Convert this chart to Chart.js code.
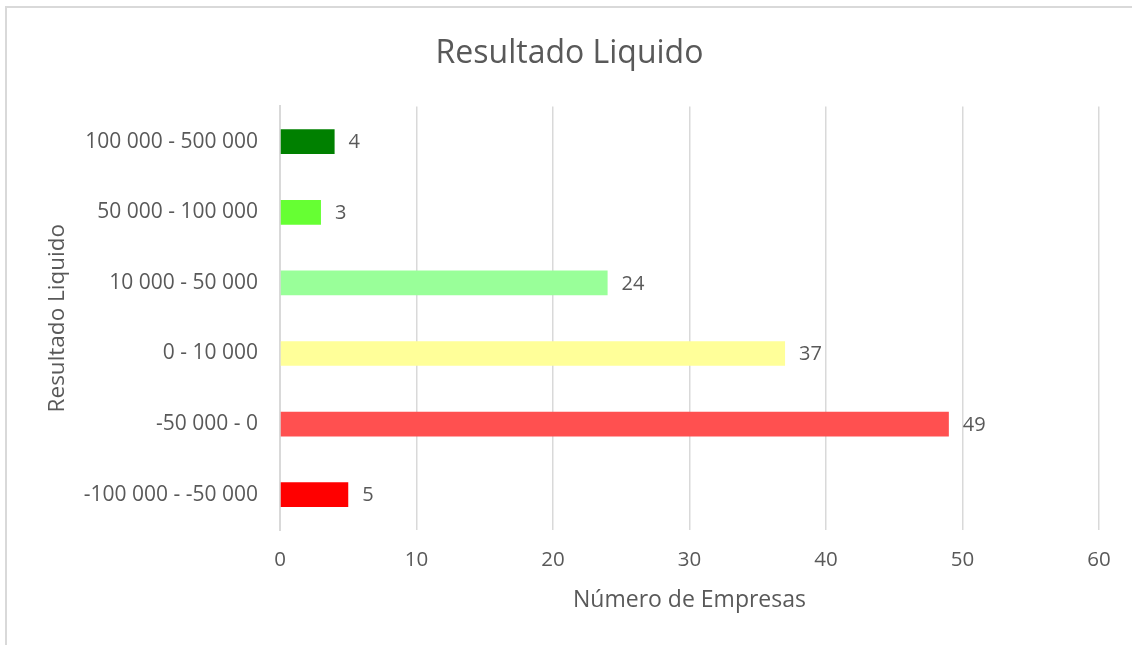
<!DOCTYPE html>
<html>
<head>
<meta charset="utf-8">
<script src="https://cdn.jsdelivr.net/npm/chart.js@4"></script>
<style>
    html, body { margin: 0; padding: 0; background: #fff; overflow: hidden; }
    #frame { position: absolute; left: 5px; top: 6px; width: 1200px; height: 700px;
             border-left: 2px solid #d9d9d9; border-top: 2px solid #d9d9d9; }
    #wrap { position: absolute; left: 0; top: 0; width: 1132px; height: 645px; }
</style>
</head>
<body>
<div id="frame"></div>
<div id="wrap"><canvas id="resultadoChart"></canvas></div>
<script>
const categories = ['100 000 - 500 000', '50 000 - 100 000', '10 000 - 50 000', '0 - 10 000', '-50 000 - 0', '-100 000 - -50 000'];
const empresas = [4, 3, 24, 37, 49, 5];
const barColors = ['#008000', '#66ff33', '#99ff99', '#ffff99', '#ff5050', '#ff0000'];

const textColor = '#595959';
const fontFamily = '"Open Sans", sans-serif';

// little plugin for the value labels right of each bar
const valueLabels = {
    id: 'valueLabels',
    afterDatasetsDraw(chart) {
        const ctx = chart.ctx;
        const meta = chart.getDatasetMeta(0);
        ctx.save();
        ctx.font = '20px ' + fontFamily;
        ctx.fillStyle = textColor;
        ctx.textAlign = 'left';
        ctx.textBaseline = 'middle';
        meta.data.forEach((bar, i) => {
            ctx.fillText(String(empresas[i]), bar.x + 14, bar.y + 1);
        });
        ctx.restore();
    }
};

new Chart(document.getElementById('resultadoChart'), {
    type: 'bar',
    data: {
        labels: categories,
        datasets: [{
            data: empresas,
            backgroundColor: barColors,
            borderWidth: 0,
            barPercentage: 0.35,
            categoryPercentage: 1
        }]
    },
    options: {
        indexAxis: 'y',
        responsive: true,
        maintainAspectRatio: false,
        animation: false,
        layout: { padding: { left: 40, right: 33, top: 0, bottom: 27 } },
        plugins: {
            legend: { display: false },
            tooltip: { enabled: false },
            title: {
                display: true,
                text: 'Resultado Liquido',
                color: textColor,
                font: { family: fontFamily, size: 32, weight: 'normal' },
                padding: { top: 35, bottom: 33 }
            }
        },
        scales: {
            x: {
                min: 0,
                max: 60,
                ticks: { stepSize: 10, color: textColor, padding: 18, font: { family: fontFamily, size: 20.5 } },
                grid: { color: '#d9d9d9', lineWidth: 1.5, drawTicks: false },
                border: { display: false },
                title: {
                    display: true,
                    text: 'Número de Empresas',
                    color: textColor,
                    font: { family: fontFamily, size: 23 }
                },
                afterFit(scale) { scale.height = 88; }
            },
            y: {
                ticks: { color: textColor, padding: 22, font: { family: fontFamily, size: 21 } },
                grid: { display: false, drawTicks: false },
                border: { display: true, color: '#d9d9d9', width: 2 },
                title: {
                    display: true,
                    text: 'Resultado Liquido',
                    color: textColor,
                    font: { family: fontFamily, size: 22.5 }
                },
                afterFit(scale) { scale.width = 280 - 40; }
            }
        }
    },
    plugins: [valueLabels]
});
</script>
</body>
</html>
